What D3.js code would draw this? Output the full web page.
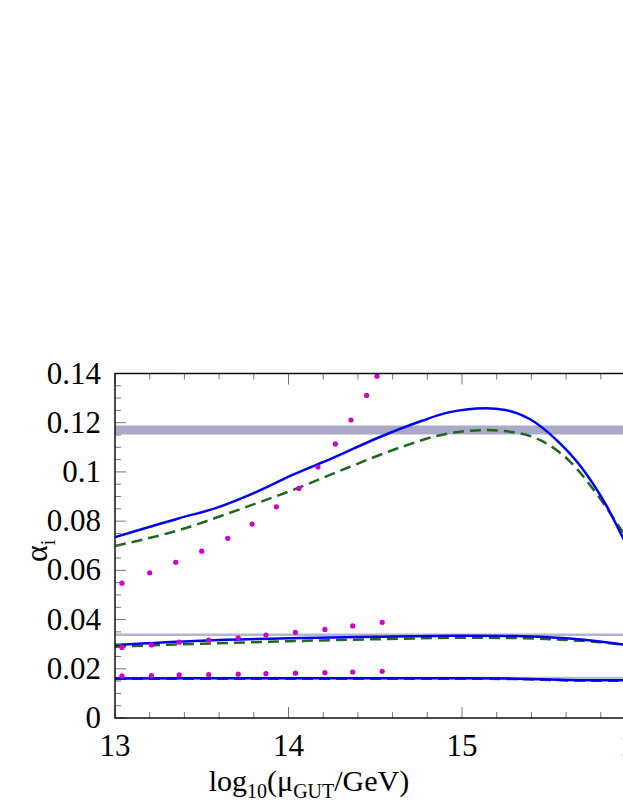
<!DOCTYPE html>
<html>
<head>
<meta charset="utf-8">
<script src="https://cdn.jsdelivr.net/npm/d3@7"></script>
<style>
body { margin: 0; background: #fff; overflow: hidden; }
svg text { font-family: 'Liberation Serif', 'Times New Roman', Times, 'DejaVu Serif', serif; }
</style>
</head>
<body>
<svg id="chart" width="623" height="806"></svg>
<script>
// upper group (alpha_3)
var blueTopX = [13.0, 13.37, 13.58, 13.80, 14.03, 14.26, 14.53, 14.77, 14.91, 15.14, 15.25, 15.39, 15.55, 15.69, 15.83, 15.94, 16.0]
var blueTopY = [0.0735, 0.0812, 0.0853, 0.0914, 0.099, 0.1058, 0.1143, 0.1208, 0.124, 0.1259, 0.1252, 0.1215, 0.1126, 0.1017, 0.0866, 0.0716, 0.064]
var greenTopX = [13.0, 13.37, 13.71, 14.03, 14.33, 14.63, 14.86, 15.14, 15.30, 15.46, 15.62, 15.78, 15.90, 16.0]
var greenTopY = [0.0699, 0.0764, 0.0846, 0.0928, 0.1014, 0.1096, 0.1147, 0.117, 0.1161, 0.1126, 0.1044, 0.0907, 0.0784, 0.068]
var dotTopX = [13.04, 13.20, 13.35, 13.50, 13.65, 13.79, 13.93, 14.06, 14.17, 14.27, 14.36, 14.45, 14.51]
var dotTopY = [0.0548, 0.0590, 0.0633, 0.0678, 0.0730, 0.0788, 0.0858, 0.0933, 0.1020, 0.1114, 0.1211, 0.1311, 0.1389]

// middle group (alpha_2)
var blueMidX = [13.0, 13.5, 14.0, 14.5, 15.0, 15.3, 15.6, 15.94, 16.0]
var blueMidY = [0.0297, 0.0314, 0.0324, 0.0330, 0.0334, 0.0333, 0.0324, 0.0297, 0.029]
var greenMidX = [13.0, 13.5, 14.0, 14.5, 15.0, 15.3, 15.6, 15.8, 16.0]
var greenMidY = [0.0290, 0.0302, 0.0312, 0.0320, 0.0326, 0.0325, 0.0317, 0.0308, 0.029]
var dotMidY = [0.0287, 0.0297, 0.0308, 0.0317, 0.0326, 0.0337, 0.0348, 0.0360, 0.0374, 0.0389]

// lower group (alpha_1)
var blueLowX = [13.0, 14.0, 15.0, 15.3, 15.8, 16.0]
var blueLowY = [0.0161, 0.0162, 0.0162, 0.0160, 0.0153, 0.0154]
var dotLowY = [0.0171, 0.0172, 0.0175, 0.0176, 0.0178, 0.018, 0.0182, 0.0184, 0.0187, 0.019]
var dotLowX = [13.04, 13.21, 13.37, 13.54, 13.71, 13.87, 14.04, 14.21, 14.37, 14.54]

// experimental values
var bandTop = 0.117
var lineMid = 0.0338
var lineLow = 0.0163

var xTicks = [13, 14, 15, 16]
var yTicks = [0, 0.02, 0.04, 0.06, 0.08, 0.1, 0.12, 0.14]

var serif = "'Liberation Serif', 'Times New Roman', serif"
var svg = d3.select('#chart')
var x = d3.scaleLinear().domain([13, 16.3]).range([115, 115 + 3.3 * 173.5])
var y = d3.scaleLinear().domain([0, 0.14]).range([718, 373.5])

var g = svg.append('g')

// reference bands
g.append('line').attr('x1', x(13)).attr('x2', 623)
    .attr('y1', y(bandTop)).attr('y2', y(bandTop))
    .style('stroke', '#aaaac8').style('stroke-width', 9)
g.append('line').attr('x1', x(13)).attr('x2', 623)
    .attr('y1', y(lineMid)).attr('y2', y(lineMid))
    .style('stroke', '#b4b4cc').style('stroke-width', 2.5)
g.append('line').attr('x1', x(13)).attr('x2', 623)
    .attr('y1', y(lineLow)).attr('y2', y(lineLow))
    .style('stroke', '#c0c0cc').style('stroke-width', 2.5)

var line = d3.line().x(d => x(d[0])).y(d => y(d[1])).curve(d3.curveMonotoneX)
function draw(xs, ys, color, dash) {
    g.append('path').datum(d3.zip(xs, ys))
        .attr('d', line)
        .style('fill', 'none').style('stroke', color).style('stroke-width', 2.5)
        .style('stroke-dasharray', dash)
}
draw(greenTopX, greenTopY, '#226622', '11,6')
draw(greenMidX, greenMidY, '#226622', '11,6')
draw(blueLowX, blueLowY.map(v => v - 0.0002), '#226622', '11,6')
draw(blueTopX, blueTopY, '#0000ee', null)
draw(blueMidX, blueMidY, '#0000ee', null)
draw(blueLowX, blueLowY, '#0000ee', null)

function dots(xs, ys) {
    g.selectAll(null).data(d3.zip(xs, ys)).enter().append('circle')
        .attr('cx', d => x(d[0])).attr('cy', d => y(d[1])).attr('r', 2.6)
        .style('fill', '#cc00cc')
}
dots(dotTopX, dotTopY)
dots(dotLowX, dotMidY)
dots(dotLowX, dotLowY)

// frame with inner ticks
var frame = svg.append('g')
var xMinor = d3.range(13, 16.31, 0.2)
var yMinor = d3.range(0, 0.1401, 0.005)
frame.selectAll(null).data(xMinor).enter().append('line')
    .attr('x1', d => x(d)).attr('x2', d => x(d))
    .attr('y1', 718).attr('y2', d => 718 - (Math.abs(d - Math.round(d)) < 0.01 ? 11 : 6))
    .style('stroke', '#777').style('stroke-width', 1)
frame.selectAll(null).data(xMinor).enter().append('line')
    .attr('x1', d => x(d)).attr('x2', d => x(d))
    .attr('y1', y(0.14)).attr('y2', d => y(0.14) + (Math.abs(d - Math.round(d)) < 0.01 ? 11 : 6))
    .style('stroke', '#777').style('stroke-width', 1)
frame.selectAll(null).data(yMinor).enter().append('line')
    .attr('x1', 115).attr('x2', d => 115 + (Math.round(d * 1000) % 20 == 0 ? 11 : 6))
    .attr('y1', d => y(d)).attr('y2', d => y(d))
    .style('stroke', '#777').style('stroke-width', 1)
frame.append('path')
    .attr('d', 'M630,' + y(0.14) + 'H115V718H630')
    .style('fill', 'none').style('stroke', '#111').style('stroke-width', 1.5)

frame.selectAll(null).data(xTicks).enter().append('text')
    .attr('x', d => x(d)).attr('y', 756).attr('text-anchor', 'middle')
    .style('font-family', serif).style('font-size', '31px').text(d => d)
frame.selectAll(null).data(yTicks).enter().append('text')
    .attr('x', 101).attr('y', d => y(d) + 10).attr('text-anchor', 'end')
    .style('font-family', serif).style('font-size', '31px').text(d => d)

var yl = svg.append('text').attr('transform', 'translate(47,562) rotate(-90)')
    .style('font-family', serif).style('font-size', '32px')
yl.append('tspan').text('α')
yl.append('tspan').attr('dy', 8).style('font-size', '20px').text('i')

var xl = svg.append('text').attr('x', 309).attr('y', 791).attr('text-anchor', 'middle')
    .style('font-family', serif).style('font-size', '30px')
xl.append('tspan').text('log')
xl.append('tspan').attr('dy', 7).style('font-size', '20px').text('10')
xl.append('tspan').attr('dy', -7).text('(μ')
xl.append('tspan').attr('dy', 7).style('font-size', '20px').text('GUT')
xl.append('tspan').attr('dy', -7).text('/GeV)')
</script>
</body>
</html>
